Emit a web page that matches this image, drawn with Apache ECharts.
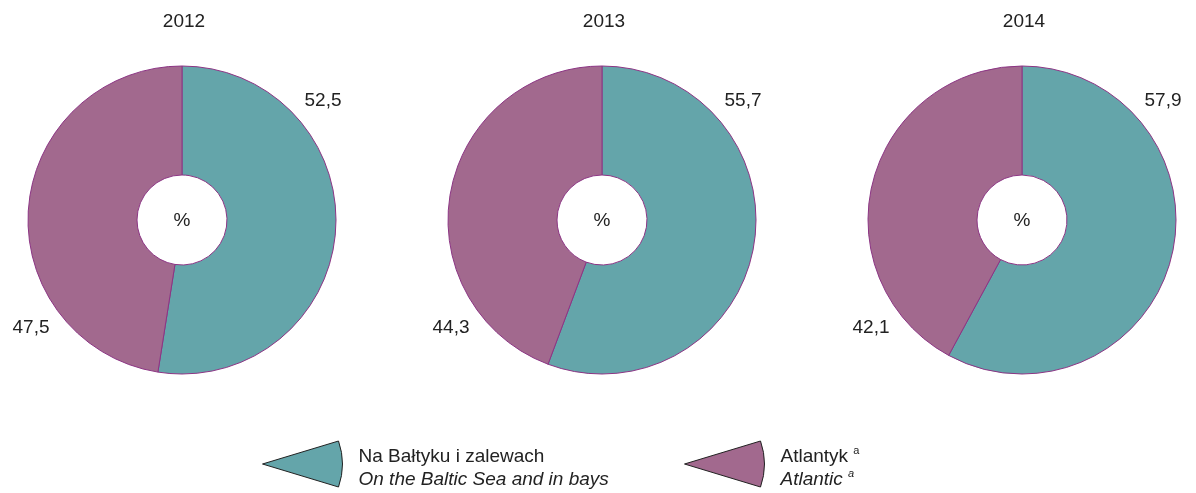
<!DOCTYPE html>
<html>
<head>
<meta charset="utf-8">
<script src="https://cdn.jsdelivr.net/npm/echarts@6/dist/echarts.min.js"></script>
<style>
  html, body { margin: 0; padding: 0; background: #fff; }
  #main { width: 1196px; height: 493px; }
</style>
</head>
<body>
<div id="main"></div>
<script>
// dane z wykresu (%)
var years = ['2012', '2013', '2014'];
var baltic = [52.5, 55.7, 57.9];
var atlantic = [47.5, 44.3, 42.1];
var seriesNames = ['Na Bałtyku i zalewach', 'Atlantyk'];

var centersX = [182, 602, 1022];
var centerY = 220;
var textColor = '#222';
var font = 'Liberation Sans, Arial, sans-serif';

function fmt(v) {
  return v.toFixed(1).replace('.', ',');
}

var titles = [];
var series = [];
years.forEach(function (y, i) {
  var cx = centersX[i];
  titles.push({
    text: y, left: cx + 2, top: 12, textAlign: 'center', padding: 0,
    textStyle: { fontSize: 19, fontWeight: 'normal', color: textColor, fontFamily: font }
  });
  titles.push({
    text: '%', left: cx, top: centerY - 9, textAlign: 'center', padding: 0,
    textStyle: { fontSize: 19, fontWeight: 'normal', color: textColor, fontFamily: font }
  });
  series.push({
    type: 'pie',
    center: [cx, centerY],
    radius: [45, 154],
    startAngle: 90,
    clockwise: true,
    silent: true,
    animation: false,
    itemStyle: { borderColor: '#8c3584', borderWidth: 1 },
    label: {
      show: true, position: 'inside',
      fontSize: 19, color: textColor, fontFamily: font,
      formatter: function (p) { return fmt(p.value); }
    },
    labelLine: { show: false },
    labelLayout: function (p) {
      // etykiety w stałym miejscu względem środka koła
      if (p.dataIndex === 0) {
        return { x: cx + 141, y: centerY - 119, align: 'center', verticalAlign: 'middle' };
      }
      return { x: cx - 151, y: centerY + 108, align: 'center', verticalAlign: 'middle' };
    },
    data: [
      { name: seriesNames[0], value: baltic[i] },
      { name: seriesNames[1], value: atlantic[i] }
    ]
  });
});

var iconPath = 'path://M0,23 L76,0 Q84,23 76,46 Z';
var legendText = {
  fontSize: 19, color: textColor, fontFamily: font, lineHeight: 23,
  padding: [8, 0, 0, 0],
  rich: {
    a: { fontSize: 19, color: textColor, fontFamily: font, lineHeight: 23, padding: [0, 0, 0, 11] },
    b: { fontSize: 19, color: textColor, fontFamily: font, fontStyle: 'italic', lineHeight: 23, padding: [0, 0, 0, 11] },
    s: { fontSize: 11, color: textColor, fontFamily: font, verticalAlign: 'top', lineHeight: 23 },
    bs: { fontSize: 11, color: textColor, fontFamily: font, fontStyle: 'italic', verticalAlign: 'top', lineHeight: 23 }
  }
};
function legendFormatter(name) {
  if (name === seriesNames[0]) {
    return '{a|Na Bałtyku i zalewach}\n{b|On the Baltic Sea and in bays}';
  }
  return '{a|Atlantyk }{s|a}\n{b|Atlantic }{bs|a}';
}

var option = {
  backgroundColor: '#fff',
  color: ['#64a5aa', '#a2698e'],
  title: titles,
  legend: [
    {
      data: [seriesNames[0]], left: 257, top: 432,
      icon: iconPath, itemWidth: 80, itemHeight: 46,
      itemStyle: { borderColor: '#222', borderWidth: 1 },
      textStyle: legendText, formatter: legendFormatter, selectedMode: false
    },
    {
      data: [seriesNames[1]], left: 679, top: 432,
      icon: iconPath, itemWidth: 80, itemHeight: 46,
      itemStyle: { borderColor: '#222', borderWidth: 1 },
      textStyle: legendText, formatter: legendFormatter, selectedMode: false
    }
  ],
  series: series
};

var myChart = echarts.init(document.getElementById('main'));
myChart.setOption(option);
</script>
</body>
</html>
